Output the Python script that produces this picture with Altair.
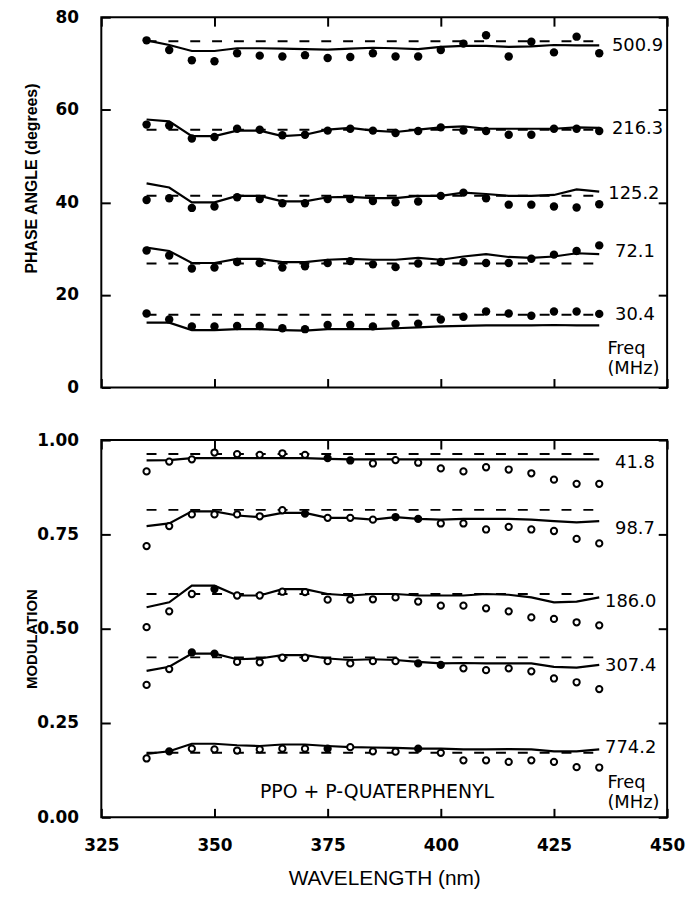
import altair as alt
import pandas as pd

# ---------------- data ----------------
wavelengths = [335, 340, 345, 350, 355, 360, 365, 370, 375, 380, 385,
               390, 395, 400, 405, 410, 415, 420, 425, 430, 435]

# Phase angle panel (degrees)
phase_freqs = ["500.9", "216.3", "125.2", "72.1", "30.4"]
phase_dots_500_9 = [75.0, 72.9, 70.7, 70.5, 72.2, 71.7, 71.5, 71.8, 71.2, 71.4, 72.2,
                    71.5, 71.5, 72.9, 74.3, 76.1, 71.5, 74.7, 72.4, 75.8, 72.2]
phase_fit_500_9 = [75.0, 74.0, 72.7, 72.7, 73.3, 73.3, 73.2, 73.1, 73.0, 73.2, 73.4,
                   73.3, 73.1, 73.6, 73.8, 73.8, 73.6, 73.7, 74.0, 73.9, 73.9]
phase_dots_216_3 = [56.8, 56.6, 53.8, 54.1, 55.9, 55.7, 54.5, 54.6, 55.5, 55.9, 55.5,
                    55.0, 55.4, 56.2, 55.5, 55.4, 54.6, 54.6, 55.9, 55.9, 55.4]
phase_fit_216_3 = [57.9, 57.5, 54.3, 54.3, 55.5, 55.5, 54.3, 54.6, 55.7, 56.1, 55.5,
                   55.2, 55.7, 56.2, 56.4, 55.9, 55.9, 55.9, 55.9, 56.2, 56.1]
phase_dots_125_2 = [40.5, 40.9, 38.8, 39.1, 41.1, 40.7, 39.8, 39.8, 40.7, 40.7, 40.3,
                    40.0, 40.2, 41.4, 42.1, 40.9, 39.5, 39.5, 39.1, 38.9, 39.6]
phase_fit_125_2 = [44.1, 43.2, 40.0, 40.0, 41.4, 41.4, 40.2, 40.2, 41.1, 41.2, 40.9,
                   40.9, 41.4, 41.4, 42.1, 41.8, 41.4, 41.4, 41.6, 42.8, 42.3]
phase_dots_72_1 = [29.6, 28.5, 25.7, 25.9, 27.1, 26.9, 25.9, 26.2, 26.9, 27.3, 26.6,
                   26.0, 26.8, 27.1, 27.1, 26.9, 26.9, 27.8, 28.7, 29.5, 30.7]
phase_fit_72_1 = [30.2, 29.5, 26.9, 26.9, 27.8, 27.8, 27.1, 27.1, 27.6, 27.8, 27.6,
                  27.6, 28.0, 27.6, 28.3, 28.8, 28.2, 28.0, 28.3, 29.0, 28.8]
phase_dots_30_4 = [16.0, 14.7, 13.2, 13.2, 13.3, 13.3, 12.8, 12.6, 13.5, 13.5, 13.2,
                   13.7, 13.8, 14.7, 15.3, 16.4, 16.0, 15.5, 16.4, 16.4, 15.9]
phase_fit_30_4 = [14.0, 14.0, 12.4, 12.4, 12.6, 12.6, 12.4, 12.3, 12.6, 12.6, 12.6,
                  12.8, 13.0, 13.2, 13.3, 13.4, 13.4, 13.4, 13.5, 13.4, 13.4]
phase_dashed = [74.8, 55.7, 41.4, 26.8, 15.7]
phase_label_x = [437.8, 437.8, 437.0, 438.5, 438.5]
phase_label_y = [73.8, 55.8, 41.8, 29.2, 15.7]

# Modulation panel
mod_freqs = ["41.8", "98.7", "186.0", "307.4", "774.2"]
mod_dots_41_8 = [0.917, 0.943, 0.949, 0.967, 0.963, 0.961, 0.965, 0.961, 0.952, 0.946, 0.938,
                 0.947, 0.940, 0.925, 0.917, 0.928, 0.922, 0.912, 0.895, 0.884, 0.884]
mod_filled_41_8 = [8, 9]
mod_fit_41_8 = [0.946, 0.947, 0.952, 0.952, 0.952, 0.952, 0.952, 0.952, 0.950, 0.949, 0.949,
                0.949, 0.949, 0.949, 0.949, 0.949, 0.949, 0.949, 0.949, 0.949, 0.949]
mod_dots_98_7 = [0.719, 0.772, 0.803, 0.803, 0.803, 0.798, 0.814, 0.805, 0.794, 0.794, 0.789,
                 0.796, 0.791, 0.779, 0.779, 0.763, 0.770, 0.763, 0.759, 0.738, 0.726]
mod_filled_98_7 = [7, 11, 12]
mod_fit_98_7 = [0.772, 0.779, 0.811, 0.811, 0.800, 0.796, 0.807, 0.807, 0.794, 0.794, 0.789,
                0.796, 0.791, 0.789, 0.791, 0.791, 0.791, 0.789, 0.785, 0.782, 0.785]
mod_dots_186_0 = [0.504, 0.546, 0.592, 0.605, 0.588, 0.588, 0.598, 0.597, 0.577, 0.577, 0.578,
                  0.583, 0.572, 0.561, 0.561, 0.554, 0.546, 0.530, 0.526, 0.517, 0.509]
mod_filled_186_0 = [3]
mod_fit_186_0 = [0.557, 0.570, 0.614, 0.614, 0.588, 0.588, 0.605, 0.605, 0.592, 0.588, 0.592,
                 0.592, 0.588, 0.588, 0.588, 0.592, 0.590, 0.583, 0.570, 0.572, 0.583]
mod_dots_307_4 = [0.351, 0.393, 0.437, 0.434, 0.412, 0.411, 0.423, 0.423, 0.414, 0.408, 0.414,
                  0.414, 0.408, 0.404, 0.395, 0.390, 0.395, 0.387, 0.368, 0.358, 0.340]
mod_filled_307_4 = [2, 3, 12, 13]
mod_fit_307_4 = [0.388, 0.399, 0.434, 0.434, 0.419, 0.421, 0.430, 0.430, 0.421, 0.417, 0.419,
                 0.417, 0.412, 0.408, 0.409, 0.408, 0.408, 0.408, 0.399, 0.397, 0.404]
mod_dots_774_2 = [0.156, 0.175, 0.182, 0.180, 0.177, 0.180, 0.182, 0.182, 0.182, 0.186, 0.175,
                  0.174, 0.182, 0.171, 0.151, 0.151, 0.147, 0.151, 0.147, 0.133, 0.132]
mod_filled_774_2 = [1, 8, 12]
mod_fit_774_2 = [0.168, 0.175, 0.195, 0.195, 0.191, 0.189, 0.193, 0.193, 0.189, 0.186, 0.185,
                 0.184, 0.182, 0.182, 0.180, 0.180, 0.181, 0.180, 0.175, 0.175, 0.180]
mod_dashed = [0.963, 0.815, 0.592, 0.424, 0.171]
mod_label_x = [438.5, 438.5, 436.3, 436.3, 436.3]
mod_label_y = [0.939, 0.763, 0.571, 0.400, 0.184]

dash_start = 335
dash_end = 435

x_ticks = [325, 350, 375, 400, 425, 450]
phase_ticks = [0, 20, 40, 60, 80]
mod_ticks = [0.0, 0.25, 0.5, 0.75, 1.0]

freq_note_x = 436.8
phase_note_y = [8.2, 3.9]
mod_note_y = [0.092, 0.037]
note_lines = ["Freq", "(MHz)"]
sample_text = "PPO + P-QUATERPHENYL"
sample_xy = [385.9, 0.066]

# ---------------- tables ----------------
phase_dots = [phase_dots_500_9, phase_dots_216_3, phase_dots_125_2, phase_dots_72_1, phase_dots_30_4]
phase_fits = [phase_fit_500_9, phase_fit_216_3, phase_fit_125_2, phase_fit_72_1, phase_fit_30_4]
mod_dots = [mod_dots_41_8, mod_dots_98_7, mod_dots_186_0, mod_dots_307_4, mod_dots_774_2]
mod_fits = [mod_fit_41_8, mod_fit_98_7, mod_fit_186_0, mod_fit_307_4, mod_fit_774_2]
mod_filled = [mod_filled_41_8, mod_filled_98_7, mod_filled_186_0, mod_filled_307_4, mod_filled_774_2]

rows = []
for f, d, s in zip(phase_freqs, phase_dots, phase_fits):
    for w, dv, sv in zip(wavelengths, d, s):
        rows.append({"freq": f, "wl": w, "dot": dv, "fit": sv})
phase_df = pd.DataFrame(rows)

rows = []
for f, d, s, fl in zip(mod_freqs, mod_dots, mod_fits, mod_filled):
    for i, (w, dv, sv) in enumerate(zip(wavelengths, d, s)):
        rows.append({"freq": f, "wl": w, "dot": dv, "fit": sv,
                     "kind": "filled" if i in fl else "open"})
mod_df = pd.DataFrame(rows)

phase_dash_df = pd.DataFrame({"freq": phase_freqs, "level": phase_dashed,
                              "x0": dash_start, "x1": dash_end})
mod_dash_df = pd.DataFrame({"freq": mod_freqs, "level": mod_dashed,
                            "x0": dash_start, "x1": dash_end})

phase_text_df = pd.DataFrame(
    {"t": phase_freqs + note_lines,
     "x": phase_label_x + [freq_note_x] * 2,
     "y": phase_label_y + phase_note_y})
mod_text_df = pd.DataFrame(
    {"t": mod_freqs + note_lines,
     "x": mod_label_x + [freq_note_x] * 2,
     "y": mod_label_y + mod_note_y})
sample_df = pd.DataFrame({"t": [sample_text], "x": [sample_xy[0]], "y": [sample_xy[1]]})

# ---------------- styling ----------------
NUMF = "DejaVu Sans"
TITF = "Liberation Sans"
W = 570
TS = 9

xs = alt.Scale(domain=[325, 450], nice=False)
ys_phase = alt.Scale(domain=[0, 80], nice=False)
ys_mod = alt.Scale(domain=[0, 1], nice=False)

tick_common = dict(tickSize=TS, offset=-TS, domain=False, grid=False,
                   tickWidth=2, tickColor="black", ticks=True, zindex=2)


def x_main(show_labels):
    if show_labels:
        return alt.Axis(values=x_ticks, labels=True, title="WAVELENGTH (nm)",
                        labelFont=NUMF, labelFontSize=17, labelFontWeight="bold",
                        labelPadding=20, labelFlush=False, labelColor="black",
                        titleFont=TITF, titleFontSize=21, titleFontWeight="normal",
                        titlePadding=15, titleColor="black", **tick_common)
    return alt.Axis(values=x_ticks, labels=False, title=None, **tick_common)


def y_main(ticks, fmt, title, title_y, title_size):
    return alt.Axis(values=ticks, format=fmt, title=title,
                    labelFont=NUMF, labelFontSize=17, labelFontWeight="bold",
                    labelPadding=23, labelColor="black",
                    titleFont=TITF, titleFontSize=title_size, titleFontWeight="bold",
                    titleColor="black", titleX=-79, titleY=title_y,
                    titleBaseline="middle", **tick_common)


x_top = alt.Axis(orient="top", values=x_ticks, labels=False, title=None, **tick_common)


def y_right(ticks):
    return alt.Axis(orient="right", values=ticks, labels=False, title=None, **tick_common)


def panel(dots_df, dash_df, text_df, ys, ticks, fmt, title, title_y, title_size,
          show_x, height, open_dots, extra=None):
    dashed = alt.Chart(dash_df).mark_rule(
        color="black", strokeWidth=2, strokeDash=[10, 12]
    ).encode(
        x=alt.X("x0:Q", scale=xs, axis=x_top),
        x2="x1:Q",
        y=alt.Y("level:Q", scale=ys, axis=y_right(ticks)),
    )
    solid = alt.Chart(dots_df).mark_line(color="black", strokeWidth=2.2).encode(
        x=alt.X("wl:Q", scale=xs, axis=None),
        y=alt.Y("fit:Q", scale=ys, axis=None),
        detail="freq:N",
    )
    yax = y_main(ticks, fmt, title, title_y, title_size)
    if open_dots:
        dots = alt.Chart(dots_df).mark_point(
            shape="circle", filled=True, stroke="black", strokeWidth=2,
            size=40, opacity=1
        ).encode(
            x=alt.X("wl:Q", scale=xs, axis=x_main(show_x)),
            y=alt.Y("dot:Q", scale=ys, axis=yax),
            fill=alt.Fill("kind:N", scale=alt.Scale(domain=["filled", "open"],
                                                    range=["black", "white"]),
                          legend=None),
        )
    else:
        dots = alt.Chart(dots_df).mark_circle(color="black", size=72, opacity=1).encode(
            x=alt.X("wl:Q", scale=xs, axis=x_main(show_x)),
            y=alt.Y("dot:Q", scale=ys, axis=yax),
        )
    texts = alt.Chart(text_df).mark_text(
        align="left", baseline="middle", font=NUMF, fontSize=18, color="black"
    ).encode(
        x=alt.X("x:Q", scale=xs, axis=None),
        y=alt.Y("y:Q", scale=ys, axis=None),
        text="t:N",
    )
    layers = [dashed, solid, dots, texts]
    if extra is not None:
        layers.append(extra)
    return alt.layer(*layers).resolve_axis(x="independent", y="independent").properties(
        width=W, height=height)


sample = alt.Chart(sample_df).mark_text(
    align="center", baseline="middle", font=NUMF, fontSize=19, color="black"
).encode(
    x=alt.X("x:Q", scale=xs, axis=None),
    y=alt.Y("y:Q", scale=ys_mod, axis=None),
    text="t:N",
)

top = panel(phase_df, phase_dash_df, phase_text_df, ys_phase, phase_ticks, "d",
            "PHASE ANGLE (degrees)", 162, 16, False, 373, False)
bottom = panel(mod_df, mod_dash_df, mod_text_df, ys_mod, mod_ticks, ".2f",
               "MODULATION", 200, 15, True, 380, True, extra=sample)

chart = alt.vconcat(top, bottom, spacing=34).properties(
    padding={"left": 15, "top": -4, "right": 0, "bottom": 4},
    background="white",
).configure_view(stroke="black", strokeWidth=2)

chart.save("out.html", embed_options={"renderer": "svg", "actions": False})
